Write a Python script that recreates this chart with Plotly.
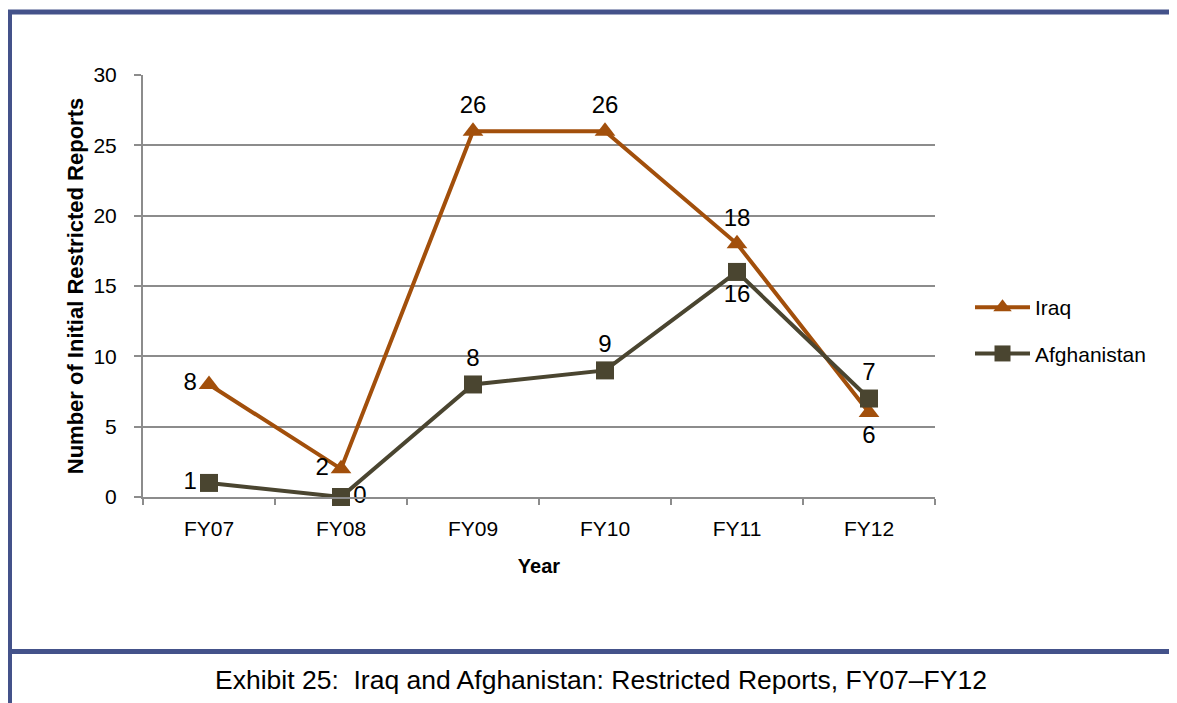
import plotly.graph_objects as go

years = ["FY07", "FY08", "FY09", "FY10", "FY11", "FY12"]
iraq = [8, 2, 26, 26, 18, 6]
afghanistan = [1, 0, 8, 9, 16, 7]
iraq_label_pos = ["middle left", "middle left", "top center", "top center", "top center", "bottom center"]
afgh_label_pos = ["middle left", "middle right", "top center", "top center", "bottom center", "top center"]

IRAQ_COLOR = "#A24F0B"
AFGH_COLOR = "#4A4530"
FRAME = "#44528A"
GRID = "#8C8C8C"
FONT = "Liberation Sans, Arial, sans-serif"

# the page puts the figure 8px in from the top-left corner,
# so work in page pixels and shift everything by that amount
OFF = 8
W, H = 1177 - OFF, 703 - OFF
L, R, T, B = 143 - OFF, 935 - OFF, 75 - OFF, 497 - OFF


def px(x):
    return (x - OFF - L) / (R - L)


def py(y):
    return (B - (y - OFF)) / (B - T)


fig = go.Figure()

fig.add_trace(
    go.Scatter(
        x=years,
        y=iraq,
        name="Iraq",
        legendgroup="iraq",
        mode="lines+markers+text",
        line=dict(color=IRAQ_COLOR, width=4),
        marker=dict(symbol="triangle-up", size=18, color=IRAQ_COLOR),
        text=[str(v) for v in iraq],
        textposition=iraq_label_pos,
        textfont=dict(size=24, color="black", family=FONT),
        cliponaxis=False,
    )
)
fig.add_trace(
    go.Scatter(
        x=years,
        y=afghanistan,
        name="Afghanistan",
        legendgroup="afgh",
        mode="lines+markers+text",
        line=dict(color=AFGH_COLOR, width=4),
        marker=dict(symbol="square", size=18, color=AFGH_COLOR),
        text=[str(v) for v in afghanistan],
        textposition=afgh_label_pos,
        textfont=dict(size=24, color="black", family=FONT),
        cliponaxis=False,
    )
)

shapes = [
    # top frame line
    dict(type="line", xref="paper", yref="paper", x0=px(6), x1=px(1177), y0=py(12), y1=py(12),
         line=dict(color=FRAME, width=5)),
    # left frame line (partly off the figure, keep the visible part)
    dict(type="line", xref="paper", yref="paper", x0=px(10), x1=px(10), y0=py(10), y1=py(703),
         line=dict(color=FRAME, width=4)),
    # line above caption
    dict(type="line", xref="paper", yref="paper", x0=px(6), x1=px(1177), y0=py(651.5), y1=py(651.5),
         line=dict(color=FRAME, width=5)),
]

fig.update_layout(
    width=W,
    height=H,
    margin=dict(l=L, r=W - R, t=T, b=H - B, pad=0),
    paper_bgcolor="white",
    plot_bgcolor="white",
    font=dict(family=FONT, size=21, color="black"),
    shapes=shapes,
    showlegend=True,
    legend=dict(
        x=px(970),
        y=py(287),
        xanchor="left",
        yanchor="top",
        font=dict(size=21),
        traceorder="grouped",
        tracegroupgap=16,
        itemwidth=55,
        bgcolor="rgba(0,0,0,0)",
    ),
    annotations=[
        dict(
            text="Exhibit 25:&nbsp; Iraq and Afghanistan: Restricted Reports, FY07\u2013FY12",
            xref="paper", yref="paper",
            x=px(601), y=py(680),
            xanchor="center", yanchor="middle",
            showarrow=False,
            font=dict(size=26.5, family=FONT),
        )
    ],
)

fig.update_xaxes(
    type="category",
    range=[-0.5, 5.5],
    showline=True,
    linecolor=GRID,
    linewidth=2,
    showgrid=False,
    ticks="outside",
    tickson="boundaries",
    ticklen=6,
    tickcolor=GRID,
    tickwidth=2,
    tickfont=dict(size=21),
    ticklabelstandoff=12,
    title=dict(text="<b>Year</b>", font=dict(size=20), standoff=20),
)
fig.update_yaxes(
    range=[0, 30],
    dtick=5,
    showline=True,
    linecolor=GRID,
    linewidth=2,
    showgrid=True,
    gridcolor=GRID,
    gridwidth=1.5,
    zeroline=False,
    ticks="outside",
    ticklen=7,
    tickcolor=GRID,
    tickwidth=2,
    tickfont=dict(size=21),
    ticklabelstandoff=13,
    title=dict(text="<b>Number of Initial Restricted Reports</b>", font=dict(size=22), standoff=4),
)

fig.write_html("out.html")
